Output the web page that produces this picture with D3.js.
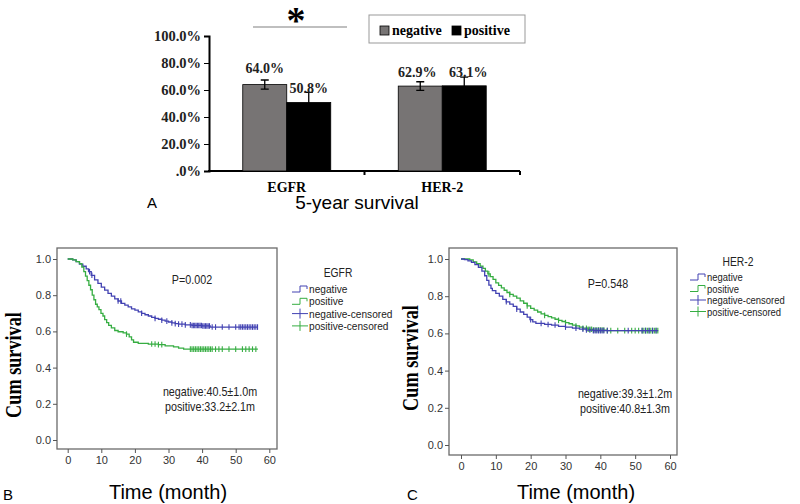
<!DOCTYPE html>
<html>
<head>
<meta charset="utf-8">
<script src="https://cdn.jsdelivr.net/npm/d3@7"></script>
<style>
  body { margin: 0; background: #fff; }
  svg { display: block; }
</style>
</head>
<body>
<svg id="fig" width="800" height="504"></svg>
<script>
// panel A: 5-year survival
const genes = ["EGFR", "HER-2"];
const groups = ["negative", "positive"];
const survival5y = [[64.0, 50.8], [62.9, 63.1]];
const survivalErr = [[3.4, 7.5], [3.2, 6.5]];
const pctTicks = [0, 20, 40, 60, 80, 100];

// KM steps, [month, cum survival]
const egfrNeg = [[0,1],[1.5,0.995],[2.5,0.985],[3.5,0.972],[4.5,0.96],[5.5,0.945],[6.2,0.93],[7,0.91],[8,0.885],
  [9,0.865],[10,0.845],[11,0.828],[12,0.81],[13,0.795],[14,0.78],[15,0.768],[16,0.755],[17,0.745],[18,0.735],
  [19,0.725],[20,0.717],[21,0.708],[22,0.7],[23,0.692],[24,0.685],[25,0.678],[26,0.672],[27,0.667],[28,0.662],
  [29,0.657],[30,0.652],[31,0.647],[32,0.643],[33,0.64],[35,0.636],[37,0.633],[40,0.63],[42.4,0.624],[56.6,0.624]];
const egfrPos = [[0,1],[1.5,0.995],[2.5,0.985],[3.5,0.975],[4.2,0.955],[4.8,0.93],[5.3,0.905],[5.8,0.88],[6.3,0.855],
  [6.8,0.83],[7.3,0.8],[7.8,0.775],[8.3,0.75],[8.8,0.735],[9.3,0.72],[9.9,0.7],[10.5,0.685],[11,0.665],[11.6,0.648],
  [12.2,0.633],[13,0.62],[14,0.605],[15,0.598],[16.5,0.592],[17.5,0.585],[18.3,0.57],[19,0.553],[19.6,0.54],
  [21,0.534],[24,0.53],[27,0.527],[29,0.52],[31.5,0.514],[33,0.508],[34.5,0.502],[56.6,0.502]];
const her2Neg = [[0,1],[1,0.997],[2,0.99],[3,0.982],[4,0.97],[5,0.955],[6,0.935],[6.8,0.91],[7.4,0.885],[8,0.86],
  [8.6,0.842],[9,0.83],[10,0.815],[11,0.8],[12,0.783],[13,0.77],[14,0.757],[15,0.745],[16,0.73],[17,0.715],
  [18,0.702],[19,0.688],[19.8,0.674],[20.6,0.662],[21.5,0.654],[24,0.648],[26,0.645],[28,0.638],[30,0.634],
  [32,0.628],[34,0.623],[36,0.618],[38,0.615],[56.6,0.615]];
const her2Pos = [[0,1],[2.5,0.995],[3.5,0.985],[4.5,0.975],[5.5,0.962],[6.3,0.95],[7,0.935],[7.7,0.92],[8.4,0.905],
  [9.2,0.89],[10,0.872],[10.8,0.858],[11.6,0.845],[12.4,0.832],[13.2,0.82],[14,0.81],[15,0.8],[16,0.79],[17,0.775],
  [18,0.762],[19,0.748],[20,0.735],[21,0.725],[22,0.715],[23,0.705],[24,0.697],[25,0.69],[26,0.683],[27,0.676],
  [28,0.67],[29,0.664],[30,0.658],[31,0.652],[32,0.645],[33,0.64],[34,0.634],[35,0.628],[36.5,0.622],[38,0.618],
  [42,0.615],[56.6,0.615]];

// censored times (months)
const egfrNegCens = [6.5,7.2,15,15.8,22,26,28,29.5,31,32,33,34,35,36.5,37,37.4,37.8,38.2,38.6,39,39.4,39.8,40.2,40.6,
  41,41.4,41.8,42.2,43,44,46,48,50,51,51.5,52,52.5,53,53.5,54,54.5,55,55.5,56,56.5];
const egfrPosCens = [17.5,25,26,27,28,36.5,37,37.5,38,38.5,39,39.5,40,40.5,41,41.5,42,42.5,43,44,45,46,48,50,
  52,53,54,55,56];
const her2NegCens = [13,16,20,23,25,27,30,33,35,36,37,38,38.5,39,39.5,40,40.5,41,42,48,52,53,54,55,56];
const her2PosCens = [8,14,19,24,28,30,33,35,36,36.5,37,37.5,38,38.5,39,39.5,40,40.5,41,42,43,45,47,49,50,51,
  52,52.5,53,53.5,54,54.5,55,55.5,56,56.5];

const monthTicks = [0, 10, 20, 30, 40, 50, 60];
const survTicks = [0, 0.2, 0.4, 0.6, 0.8, 1.0];
const kmLegend = ["negative", "positive", "negative-censored", "positive-censored"];

const BLUE = '#4242b2', GREEN = '#36ad42';
const serif = 'Liberation Serif, Times New Roman, serif';
const sans = 'Liberation Sans, Arial, sans-serif';

const svg = d3.select('#fig');
svg.append('rect').attr('width', 800).attr('height', 504).attr('fill', '#fff');

// ---------- panel A ----------
let ya = d3.scaleLinear().domain([0, 100]).range([171, 36]);
let xa = d3.scaleBand().domain(genes).range([209, 520]);
let xg = d3.scaleBand().domain(groups).range([0, 88]);
const fillA = {negative: '#777474', positive: '#000'};
// labels of the HER-2 pair are pushed apart a little in the original
const labelShift = [[0, 0], [-3, 4]];

const gA = svg.append('g');

gA.append('g')
    .attr('transform', 'translate(209,0)')
    .call(d3.axisLeft(ya).tickValues(pctTicks).tickSize(5).tickPadding(3)
        .tickFormat(d => d === 0 ? '.0%' : d.toFixed(1) + '%'))
    .call(g => g.select('.domain').attr('stroke-width', 2))
    .call(g => g.selectAll('text').attr('font-family', serif).attr('font-weight', 'bold')
        .attr('font-size', 14.5).attr('fill', '#222'));

// x axis line + boundary ticks
gA.append('line').attr('x1', 208).attr('x2', xa.range()[1]).attr('y1', 171).attr('y2', 171)
    .attr('stroke', '#000').attr('stroke-width', 2);
[xa(genes[1]), xa.range()[1]].forEach(bx => {
    gA.append('line').attr('x1', bx).attr('x2', bx).attr('y1', 171).attr('y2', 175)
        .attr('stroke', '#000').attr('stroke-width', 2);
});

genes.forEach((gn, i) => {
    let cx = xa(gn) + xa.bandwidth() / 2;
    groups.forEach((grp, j) => {
        let v = survival5y[i][j], e = survivalErr[i][j];
        let bx = cx - 44 + xg(grp), bw = xg.bandwidth();
        gA.append('rect').attr('x', bx).attr('y', ya(v)).attr('width', bw).attr('height', ya(0) - ya(v))
            .attr('fill', fillA[grp]).attr('stroke', '#000').attr('stroke-width', 0.8);
        let ex = bx + bw / 2;
        gA.append('path')
            .attr('d', `M${ex - 4},${ya(v + e)}H${ex + 4}M${ex},${ya(v + e)}V${ya(v - e)}M${ex - 4},${ya(v - e)}H${ex + 4}`)
            .attr('stroke', '#000').attr('stroke-width', 1.3).attr('fill', 'none');
        gA.append('text').attr('x', ex + labelShift[i][j]).attr('y', ya(v) - 9 - (v === 64.0 ? 3 : 0))
            .attr('text-anchor', 'middle').attr('font-family', serif).attr('font-weight', 'bold')
            .attr('font-size', 14).attr('fill', '#222').text(v.toFixed(1) + '%');
    });
    gA.append('text').attr('x', cx).attr('y', 192).attr('text-anchor', 'middle')
        .attr('font-family', serif).attr('font-weight', 'bold').attr('font-size', 14).text(gn);
});

// significance mark
gA.append('line').attr('x1', 253).attr('x2', 347).attr('y1', 27).attr('y2', 27)
    .attr('stroke', '#aaa').attr('stroke-width', 1.5);
gA.append('text').attr('x', 296).attr('y', 33).attr('text-anchor', 'middle')
    .attr('font-family', serif).attr('font-weight', 'bold').attr('font-size', 38).text('*');

// legend
gA.append('rect').attr('x', 369).attr('y', 15).attr('width', 156).attr('height', 28)
    .attr('fill', '#fff').attr('stroke', '#999');
groups.forEach((grp, j) => {
    let lx = j === 0 ? 380 : 452;
    gA.append('rect').attr('x', lx).attr('y', 26).attr('width', 9).attr('height', 9)
        .attr('fill', fillA[grp]).attr('stroke', '#000').attr('stroke-width', 0.8);
    gA.append('text').attr('x', lx + 12).attr('y', 35).attr('font-family', serif)
        .attr('font-weight', 'bold').attr('font-size', 14).text(grp);
});

gA.append('text').attr('x', 152).attr('y', 208).attr('text-anchor', 'middle')
    .attr('font-family', sans).attr('font-size', 15).text('A');
gA.append('text').attr('x', 357).attr('y', 209).attr('text-anchor', 'middle')
    .attr('font-family', sans).attr('font-size', 19).text('5-year survival');

// ---------- KM panels ----------
function ctext(g, x, y, str, size, anchor) {
    return g.append('text').attr('transform', `translate(${x},${y}) scale(0.86,1)`)
        .attr('text-anchor', anchor || 'start').attr('font-family', sans)
        .attr('font-size', size).attr('fill', '#222').text(str);
}

function survAt(pts, t) {
    let s = 1;
    pts.forEach(p => { if (p[0] <= t) s = p[1]; });
    return s;
}

function km(cfg) {
    const g = svg.append('g');
    const x = d3.scaleLinear().domain([0, 60]).range([cfg.x0, cfg.x60]);
    const y = d3.scaleLinear().domain([0, 1]).range([cfg.y0, cfg.y1]);

    g.append('rect').attr('x', cfg.left).attr('y', cfg.top)
        .attr('width', cfg.right - cfg.left).attr('height', cfg.bottom - cfg.top)
        .attr('fill', 'none').attr('stroke', '#6a6a6a').attr('stroke-width', 1.3);

    g.append('g').attr('transform', `translate(${cfg.left},0)`)
        .call(d3.axisLeft(y).tickValues(survTicks).tickSize(4).tickPadding(2).tickFormat(d3.format('.1f')))
        .call(a => a.select('.domain').remove())
        .call(a => a.selectAll('line').attr('stroke', '#555'))
        .call(a => a.selectAll('text').attr('font-family', sans).attr('font-size', 11).attr('fill', '#333'));
    g.append('g').attr('transform', `translate(0,${cfg.bottom})`)
        .call(d3.axisBottom(x).tickValues(monthTicks).tickSize(4).tickPadding(3))
        .call(a => a.select('.domain').remove())
        .call(a => a.selectAll('line').attr('stroke', '#555'))
        .call(a => a.selectAll('text').attr('font-family', sans).attr('font-size', 11).attr('fill', '#333'));

    const line = d3.line().x(d => x(d[0])).y(d => y(d[1])).curve(d3.curveStepAfter);
    cfg.series.forEach(s => {
        g.append('path').attr('d', line(s.pts)).attr('fill', 'none')
            .attr('stroke', s.color).attr('stroke-width', 1.3);
        s.cens.forEach(t => {
            let cx = x(t), cy = y(survAt(s.pts, t));
            g.append('line').attr('x1', cx).attr('x2', cx).attr('y1', cy - 2.8).attr('y2', cy + 2.8)
                .attr('stroke', s.color).attr('stroke-width', 1.1);
        });
    });

    // legend
    ctext(g, cfg.legTitleX, cfg.legTitleY, cfg.title, 12, 'middle');
    kmLegend.forEach((lab, i) => {
        let ly = cfg.legY + i * cfg.legStep, lx = cfg.legX;
        let col = i % 2 === 0 ? BLUE : GREEN;
        if (i < 2) {
            g.append('path').attr('d', `M${lx},${ly + 3}H${lx + 8}V${ly - 3}H${lx + 15}V${ly}`)
                .attr('fill', 'none').attr('stroke', col).attr('stroke-width', 1);
        } else {
            g.append('path').attr('d', `M${lx},${ly}H${lx + 16}M${lx + 8},${ly - 5}V${ly + 5}`)
                .attr('fill', 'none').attr('stroke', col).attr('stroke-width', 1);
        }
        ctext(g, lx + 17, ly + 4, lab, cfg.legFont);
    });

    ctext(g, cfg.pX, cfg.pY, cfg.pText, 12.5, 'middle');
    ctext(g, cfg.mX, cfg.mY, cfg.m1, 12.5, 'middle');
    ctext(g, cfg.mX, cfg.mY + 15, cfg.m2, 12.5, 'middle');

    g.append('text').attr('transform', `translate(${cfg.ylabX},${cfg.ylabY}) rotate(-90) scale(0.76,1)`)
        .attr('text-anchor', 'middle').attr('font-family', serif).attr('font-weight', 'bold')
        .attr('font-size', 24).text('Cum survival');
    g.append('text').attr('x', cfg.xlabX).attr('y', 499).attr('text-anchor', 'middle')
        .attr('font-family', sans).attr('font-size', 20).text('Time (month)');
    g.append('text').attr('x', cfg.tagX).attr('y', 500).attr('font-family', sans)
        .attr('font-size', 15).text(cfg.tag);
}

km({
    left: 57, right: 277, top: 248, bottom: 449,
    x0: 67.7, x60: 269.3, y0: 440, y1: 259,
    series: [{pts: egfrNeg, cens: egfrNegCens, color: BLUE}, {pts: egfrPos, cens: egfrPosCens, color: GREEN}],
    title: 'EGFR', legTitleX: 338, legTitleY: 277, legX: 292, legY: 289, legStep: 12.3, legFont: 11.8,
    pText: 'P=0.002', pX: 192, pY: 284,
    m1: 'negative:40.5\u00b11.0m', m2: 'positive:33.2\u00b12.1m', mX: 210, mY: 396,
    ylabX: 21, ylabY: 365, xlabX: 168, tag: 'B', tagX: 3
});
km({
    left: 449, right: 677, top: 248, bottom: 455,
    x0: 461, x60: 670, y0: 445, y1: 259,
    series: [{pts: her2Pos, cens: her2PosCens, color: GREEN}, {pts: her2Neg, cens: her2NegCens, color: BLUE}],
    title: 'HER-2', legTitleX: 738, legTitleY: 266, legX: 690, legY: 277, legStep: 11.5, legFont: 11,
    pText: 'P=0.548', pX: 608, pY: 288,
    m1: 'negative:39.3\u00b11.2m', m2: 'positive:40.8\u00b11.3m', mX: 625, mY: 398,
    ylabX: 418, ylabY: 358, xlabX: 576, tag: 'C', tagX: 407
});
</script>
</body>
</html>
